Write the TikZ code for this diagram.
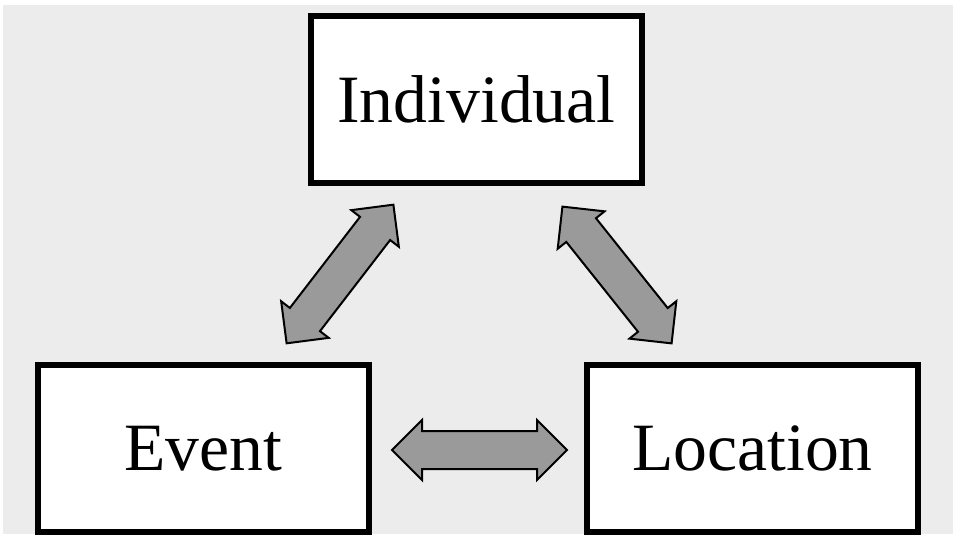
\documentclass[tikz,border=0pt]{standalone}
\usepackage{fontspec}
\setmainfont{Liberation Serif}
\usetikzlibrary{shapes.arrows}
\definecolor{bggray}{HTML}{ECECEC}
\definecolor{arrowgray}{HTML}{9A9A9A}
\tikzset{
    entity/.style={draw, fill=white, line width=0.12cm, minimum width=6.62cm,
        minimum height=3.34cm, inner sep=0pt, font=\fontsize{38.5}{40}\selectfont},
    linkarrow/.style={double arrow, draw, fill=arrowgray, line width=0.04cm,
        minimum height=3.5cm, minimum width=1.18cm, inner sep=0.36cm,
        double arrow head extend=0.22cm}
}
\begin{document}
\begin{tikzpicture}
    \useasboundingbox (0,0) rectangle (19.06,10.68);
    \fill[bggray] (0.06,0) rectangle (19.06,10.58);
    % the three boxes
    \node[entity] (individual) at (9.53,8.69) {Individual};
    \node[entity] (event) at (4.06,1.71) {Event};
    \node[entity] (location) at (15.05,1.71) {Location};
    % the links between them
    \node[linkarrow, rotate=52.4] (evind) at (6.80,5.20) {};
    \node[linkarrow, rotate=-51.4] (indloc) at (12.34,5.18) {};
    \node[linkarrow] (evloc) at (9.59,1.68) {};
\end{tikzpicture}
\end{document}
